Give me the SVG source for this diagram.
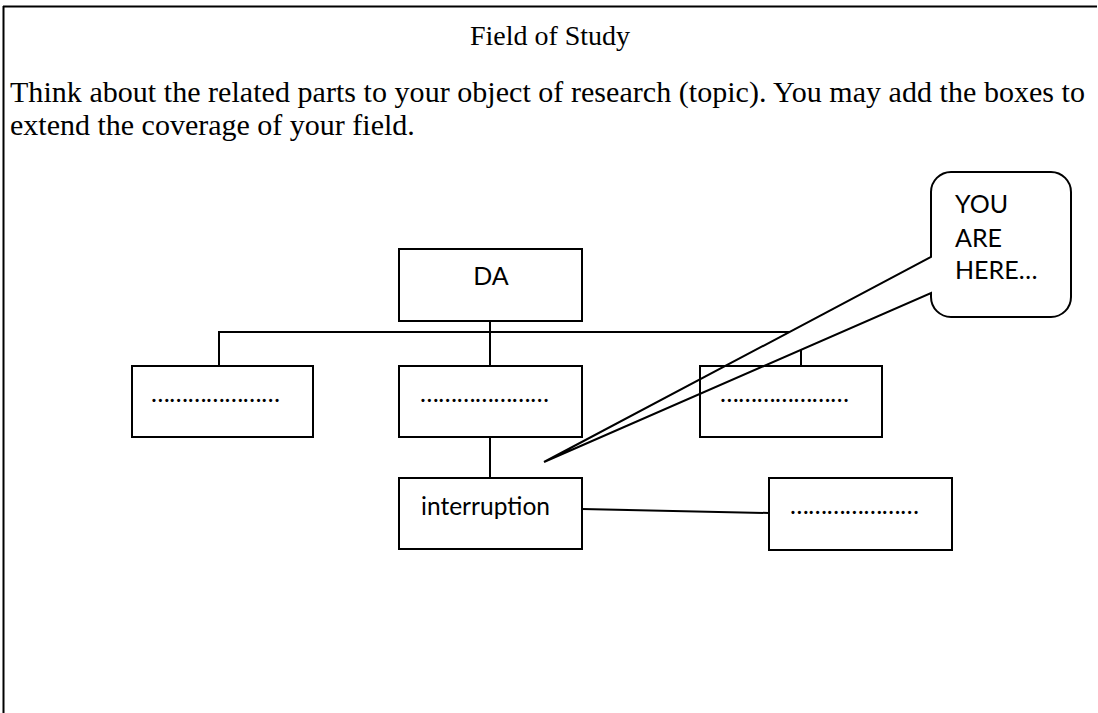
<svg xmlns="http://www.w3.org/2000/svg" width="1098" height="713" viewBox="0 0 1098 713">
<style>
.frame{stroke:#000;stroke-width:2;fill:none}
.box{fill:#fff;stroke:#000;stroke-width:2}
.open{fill:none;stroke:#000;stroke-width:2}
.ln{stroke:#000;stroke-width:2;fill:none}
.title{font-family:"Liberation Serif","Times New Roman",serif;font-size:28px;fill:#000}
.serif{font-family:"Liberation Serif","Times New Roman",serif;font-size:30px;fill:#000}
.lbl{font-family:Lato,"Open Sans",sans-serif;font-size:25px;fill:#000}
</style>
<rect width="1098" height="713" fill="#fff"/>
<g id="frame">
<line class="frame" x1="3" y1="6.5" x2="1097" y2="6.5"/>
<line class="frame" x1="3.5" y1="6" x2="3.5" y2="713"/>
</g>
<g id="heading">
<text class="title" x="550" y="45" text-anchor="middle">Field of Study</text>
<text class="serif" x="10" y="102" textLength="1075" lengthAdjust="spacing">Think about the related parts to your object of research (topic). You may add the boxes to</text>
<text class="serif" x="10" y="135">extend the coverage of your field.</text>
</g>
<g id="connectors">
<polyline class="ln" points="490,321 490,332"/>
<polyline class="ln" points="219,366 219,332 801,332 801,366"/>
<line class="ln" x1="490" y1="332" x2="490" y2="366"/>
<line class="ln" x1="490" y1="437" x2="490" y2="478"/>
<line class="ln" x1="582" y1="509" x2="769" y2="513"/>
</g>
<g id="callout">
<path class="box" d="M951 172 H1051 A20 20 0 0 1 1071 192 V297 A20 20 0 0 1 1051 317 H951 A20 20 0 0 1 931 297 V293 L544 462 L931 257 V192 A20 20 0 0 1 951 172 Z"/>
<text class="lbl" x="955" y="213">YOU</text>
<text class="lbl" x="955" y="247">ARE</text>
<text class="lbl" x="955" y="279">HERE…</text>
</g>
<g id="node-da">
<rect class="box" x="399" y="249" width="183" height="72"/>
<text class="lbl" x="491" y="285" text-anchor="middle">DA</text>
</g>
<g id="node-left">
<rect class="box" x="132" y="366" width="181" height="71"/>
<text class="lbl" x="151" y="402" textLength="129" lengthAdjust="spacing">…………………</text>
</g>
<g id="node-middle">
<rect class="box" x="399" y="366" width="183" height="71"/>
<text class="lbl" x="420" y="402" textLength="129" lengthAdjust="spacing">…………………</text>
</g>
<g id="node-right">
<rect class="open" x="700" y="366" width="182" height="71"/>
<text class="lbl" x="720" y="402" textLength="129" lengthAdjust="spacing">…………………</text>
</g>
<g id="node-interruption">
<rect class="box" x="399" y="478" width="183" height="71"/>
<text class="lbl" x="421" y="515" textLength="129" lengthAdjust="spacingAndGlyphs">interruption</text>
</g>
<g id="node-bottom-right">
<rect class="box" x="769" y="478" width="183" height="72"/>
<text class="lbl" x="790" y="514" textLength="129" lengthAdjust="spacing">…………………</text>
</g>
</svg>
